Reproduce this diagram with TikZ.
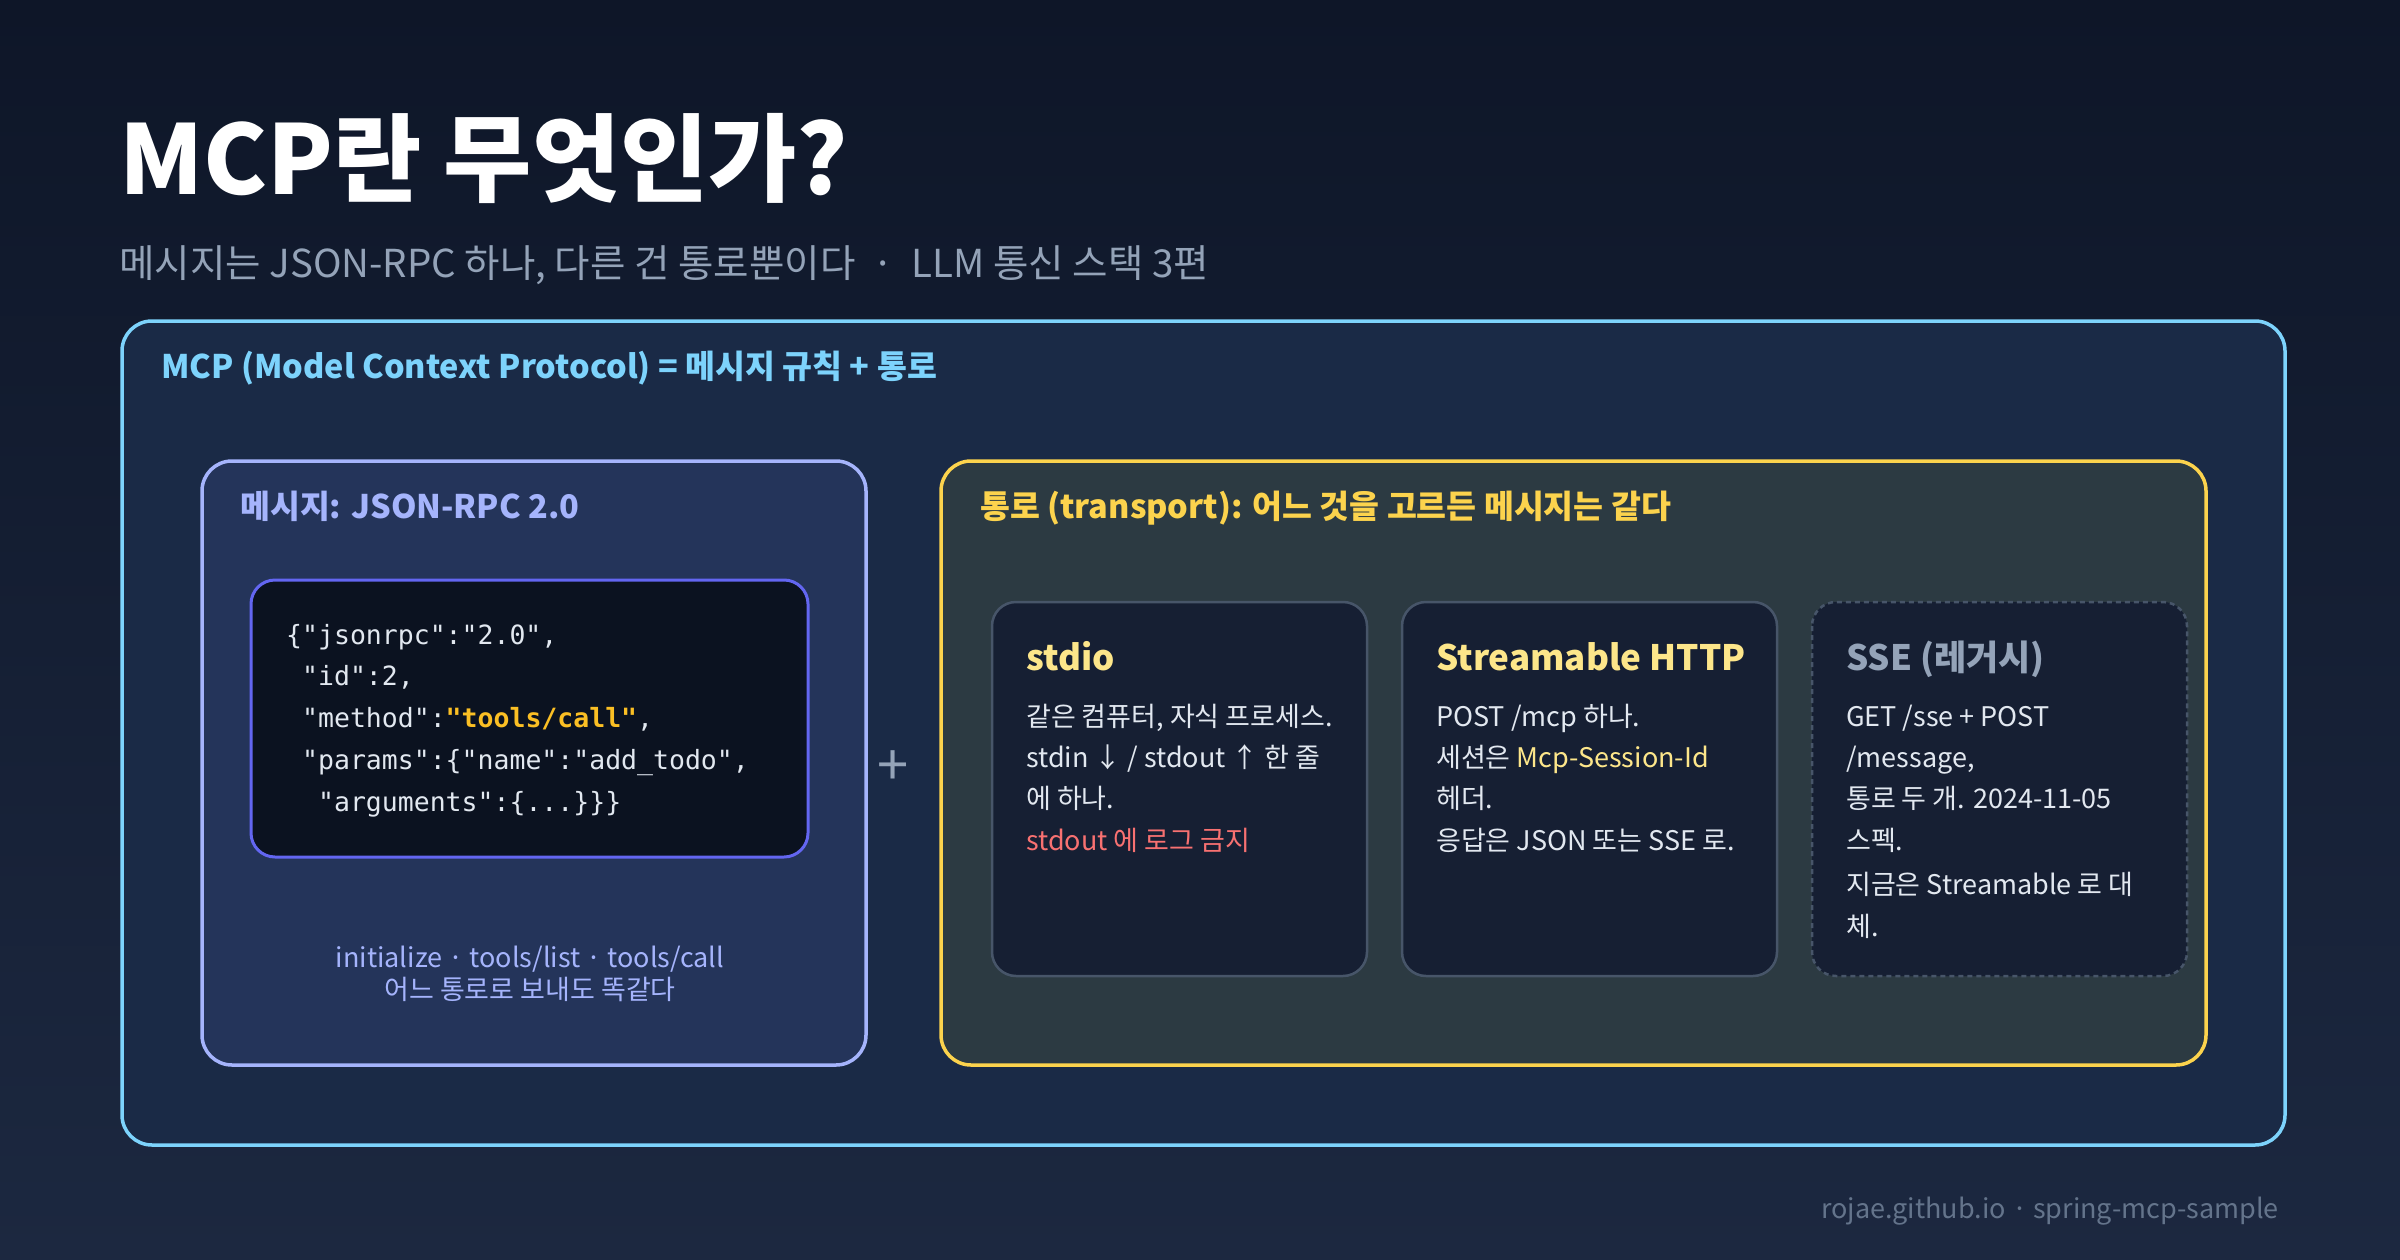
\documentclass[tikz,border=0pt]{standalone}
\usepackage{fontspec}
\setmainfont{Noto Sans CJK KR}
\newfontfamily\codefont{DejaVu Sans Mono}
\usetikzlibrary{positioning}
\definecolor{bgA}{HTML}{0E1628}
\definecolor{bgB}{HTML}{1C2840}
\definecolor{skyline}{HTML}{7DD3FC}
\definecolor{outerfill}{HTML}{1A2A46}
\definecolor{msgline}{HTML}{A5B4FC}
\definecolor{msgfill}{HTML}{24345A}
\definecolor{codeline}{HTML}{6366F1}
\definecolor{codefill}{HTML}{0B1220}
\definecolor{amber}{HTML}{FCD34D}
\definecolor{trfill}{HTML}{2C3A42}
\definecolor{cardfill}{HTML}{161F33}
\definecolor{cardline}{HTML}{475569}
\definecolor{lightyel}{HTML}{FDE68A}
\definecolor{keyyel}{HTML}{FBBF24}
\definecolor{slate}{HTML}{94A3B8}
\definecolor{bodytxt}{HTML}{E2E8F0}
\definecolor{warnred}{HTML}{F87171}
\definecolor{footgray}{HTML}{64748B}
\tikzset{
  panel/.style={rounded corners=30pt, line width=3.5pt},
  card/.style={rounded corners=24pt, line width=2.5pt, draw=cardline, fill=cardfill},
  head/.style={anchor=base west, inner sep=0pt, font=\fontsize{32.5}{32.5}\selectfont\bfseries},
  cardtitle/.style={anchor=base west, inner sep=0pt, font=\fontsize{35}{35}\selectfont\bfseries},
  body/.style={anchor=base west, inner sep=0pt, text=bodytxt, font=\fontsize{27}{27}\selectfont},
  code/.style={anchor=base west, inner sep=0pt, text=bodytxt, font=\fontsize{26.5}{26.5}\selectfont\codefont},
}
\begin{document}
\begin{tikzpicture}[x=1pt,y=-1pt]
\shade[left color=bgA, right color=bgB, shading angle=0] (0,0) rectangle (2400,1260);
\useasboundingbox (0,0) rectangle (2400,1260);

% title
\node[anchor=base west, inner sep=0pt, text=white, font=\fontsize{96}{96}\selectfont\bfseries] (title) at (119,194) {MCP란 무엇인가?};
\node[anchor=base west, inner sep=0pt, text=slate, font=\fontsize{38.5}{38.5}\selectfont] (subtitle) at (119,277) {메시지는 JSON-RPC 하나, 다른 건 통로뿐이다 \ · \ LLM 통신 스택 3편};

% outer frame
\draw[panel, draw=skyline, fill=outerfill] (122,321) rectangle (2285,1145);
\node[head, text=skyline] (mcphead) at (161,378) {MCP (Model Context Protocol) = 메시지 규칙 + 통로};

% message side
\draw[panel, draw=msgline, fill=msgfill] (202,461) rectangle (866,1065);
\node[head, text=msgline] (msghead) at (240,518) {메시지: JSON-RPC 2.0};
\draw[rounded corners=24pt, line width=3pt, draw=codeline, fill=codefill] (251,580) rectangle (808,857);
\node[code] (c1) at (286,644) {\{"jsonrpc":"2.0",};
\node[code] (c2) at (286,685) {\ "id":2,};
\node[code] (c3) at (286,727) {\ "method":\textcolor{keyyel}{\bfseries"tools/call"},};
\node[code] (c4) at (286,769) {\ "params":\{"name":"add\_todo",};
\node[code] (c5) at (286,811) {\ \ "arguments":\{...\}\}\}};
\node[anchor=base, inner sep=0pt, text=msgline, font=\fontsize{27}{27}\selectfont] (calls) at (530,967) {initialize · tools/list · tools/call};
\node[anchor=base, inner sep=0pt, text=msgline, font=\fontsize{27}{27}\selectfont] (same) at (530,999) {어느 통로로 보내도 똑같다};

\node[text=slate, inner sep=0pt, font=\fontsize{56}{56}\selectfont] (plus) at (893,768) {+};

% transport side
\draw[panel, draw=amber, fill=trfill] (941,461) rectangle (2206,1065);
\node[head, text=amber] (trhead) at (980,518) {통로 (transport): 어느 것을 고르든 메시지는 같다};

\draw[card] (992,602) rectangle (1367,976);
\node[cardtitle, text=lightyel] (stdio) at (1026,670) {stdio};
\node[body] (s1) at (1026,726) {같은 컴퓨터, 자식 프로세스.};
\node[body] (s2) at (1026,767) {stdin ↓ / stdout ↑ 한 줄};
\node[body] (s3) at (1026,808) {에 하나.};
\node[body, text=warnred] (s4) at (1026,850) {stdout 에 로그 금지};

\draw[card] (1402,602) rectangle (1777,976);
\node[cardtitle, text=lightyel] (http) at (1436,670) {Streamable HTTP};
\node[body] (h1) at (1436,726) {POST /mcp 하나.};
\node[body] (h2) at (1436,767) {세션은 \textcolor{lightyel}{Mcp-Session-Id}};
\node[body] (h3) at (1436,808) {헤더.};
\node[body] (h4) at (1436,850) {응답은 JSON 또는 SSE 로.};

\draw[card, dash pattern=on 5pt off 4pt] (1812,602) rectangle (2187,976);
\node[cardtitle, text=slate] (sse) at (1846,670) {SSE (레거시)};
\node[body] (e1) at (1846,726) {GET /sse + POST};
\node[body] (e2) at (1846,767) {/message,};
\node[body] (e3) at (1846,808) {통로 두 개. 2024-11-05};
\node[body] (e4) at (1846,850) {스펙.};
\node[body] (e5) at (1846,894) {지금은 Streamable 로 대};
\node[body] (e6) at (1846,936) {체.};

\node[anchor=base east, inner sep=0pt, text=footgray, font=\fontsize{27}{27}\selectfont] (foot) at (2279,1218) {rojae.github.io · spring-mcp-sample};
\end{tikzpicture}
\end{document}
